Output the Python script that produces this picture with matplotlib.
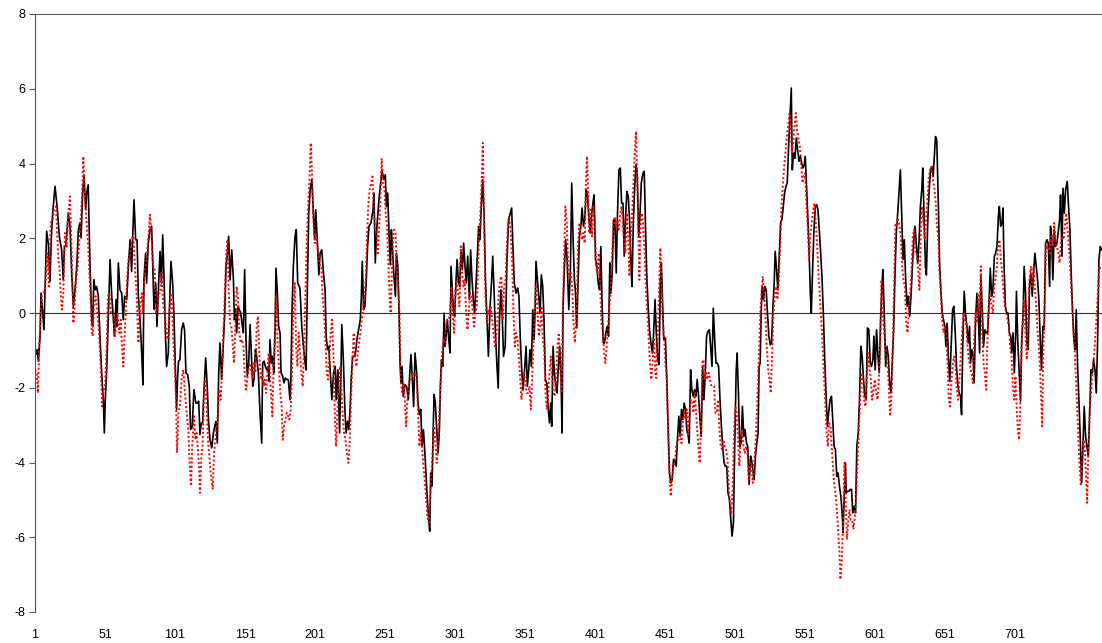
import matplotlib.pyplot as plt

plt.rcParams['font.family'] = ['Liberation Sans', 'DejaVu Sans']
plt.rcParams['axes.unicode_minus'] = False

black_x = [
    1.0, 1.7, 2.7, 3.4, 4.6, 5.3, 6.5, 7.4, 8.4, 9.3,
    10.5, 11.7, 12.7, 13.6, 15.3, 17.0, 18.4, 20.0, 21.2, 22.0,
    23.0, 24.8, 26.0, 27.2, 28.4, 29.6, 30.8, 32.0, 33.0, 33.9,
    35.0, 36.0, 37.2, 37.9, 39.0, 40.3, 41.5, 42.2, 43.0, 44.0,
    45.0, 46.2, 47.4, 48.6, 49.8, 50.5, 51.2, 52.2, 53.4, 54.6,
    55.8, 57.0, 57.7, 58.9, 59.6, 60.5, 61.7, 62.9, 64.0, 65.0,
    66.5, 67.7, 68.9, 70.0, 70.7, 71.7, 72.9, 73.9, 74.8, 76.0,
    77.2, 78.1, 78.8, 80.0, 80.7, 81.9, 83.1, 84.3, 85.5, 86.0,
    87.2, 88.1, 89.1, 90.3, 91.3, 92.2, 93.2, 94.1, 95.0, 96.2,
    96.9, 98.1, 99.3, 100.2, 101.2, 102.1, 102.8, 103.5, 104.5, 105.7,
    106.9, 107.8, 108.8, 110.0, 111.2, 112.1, 113.3, 114.5, 115.9, 116.9,
    117.9, 118.8, 119.8, 120.7, 121.7, 122.9, 124.1, 125.0, 126.0, 127.2,
    128.4, 129.6, 130.3, 131.2, 132.2, 133.1, 134.3, 135.5, 136.5, 137.4,
    138.4, 139.3, 140.3, 141.5, 142.7, 143.4, 144.3, 145.0, 146.0, 146.9,
    147.9, 148.8, 149.8, 150.7, 151.7, 152.6, 153.6, 154.6, 155.5, 156.5,
    157.4, 158.4, 159.3, 160.5, 161.7, 162.9, 163.6, 164.6, 165.5, 166.5,
    167.4, 168.1, 168.8, 169.8, 170.7, 171.5, 172.4, 173.1, 174.1, 175.0,
    176.0, 176.7, 177.9, 178.8, 179.8, 180.7, 181.9, 183.1, 183.8, 184.5,
    185.5, 186.7, 187.6, 188.6, 189.8, 190.3, 191.5, 192.7, 193.9, 194.6,
    195.6, 196.5, 197.5, 198.7, 199.9, 200.8, 201.5, 202.7, 203.7, 204.6,
    205.8, 207.0, 208.2, 208.9, 209.9, 210.8, 211.8, 213.0, 214.2, 215.4,
    216.1, 217.3, 218.5, 219.4, 220.1, 221.3, 222.3, 223.2, 224.2, 225.1,
    226.1, 226.8, 227.8, 229.0, 229.9, 230.9, 232.1, 233.3, 234.0, 234.7,
    235.7, 236.6, 237.6, 238.5, 239.5, 240.9, 242.4, 243.1, 244.0, 245.2,
    246.4, 247.6, 248.8, 250.0, 251.2, 251.9, 252.9, 253.8, 254.8, 255.5,
    256.2, 257.2, 258.4, 259.1, 260.1, 261.0, 261.7, 262.4, 263.1, 264.0,
    265.2, 266.4, 267.6, 268.8, 269.5, 270.5, 271.4, 272.4, 273.6, 274.5,
    275.5, 276.5, 277.4, 278.4, 279.3, 280.3, 281.2, 282.2, 282.9, 283.6,
    284.6, 285.3, 286.0, 286.9, 287.9, 288.9, 289.8, 290.5, 291.3, 292.2,
    293.2, 293.9, 294.8, 295.5, 296.5, 297.4, 298.1, 299.1, 299.8, 300.7,
    301.7, 302.4, 303.3, 304.3, 305.2, 306.2, 307.1, 308.1, 309.0, 310.0,
    311.2, 312.1, 313.1, 314.0, 315.0, 315.9, 316.9, 317.8, 318.8, 319.7,
    320.7, 321.7, 322.7, 323.6, 324.8, 326.0, 327.0, 327.9, 328.9, 329.8,
    330.8, 331.8, 332.7, 333.7, 334.6, 335.6, 336.8, 338.0, 339.2, 340.4,
    341.4, 342.3, 343.3, 344.5, 345.7, 346.6, 347.6, 348.6, 349.5, 350.5,
    351.7, 352.6, 353.6, 354.5, 355.5, 356.5, 357.4, 358.1, 358.8, 359.8,
    360.7, 361.7, 362.6, 363.6, 364.5, 365.5, 366.5, 367.4, 368.4, 369.3,
    370.0, 371.0, 371.9, 372.9, 373.8, 374.8, 375.7, 376.7, 377.4, 378.1,
    379.1, 380.0, 381.0, 382.2, 383.4, 384.3, 385.3, 386.2, 386.9, 387.9,
    388.9, 389.8, 390.8, 391.7, 392.7, 393.6, 394.6, 395.5, 396.5, 397.5,
    398.4, 399.4, 400.3, 401.3, 402.2, 403.2, 404.2, 405.1, 405.8, 406.8,
    407.7, 408.7, 409.6, 410.6, 411.5, 412.3, 413.2, 414.2, 415.1, 416.1,
    417.0, 418.0, 419.0, 419.9, 420.9, 421.8, 422.8, 423.7, 424.7, 425.7,
    426.6, 427.3, 428.3, 429.2, 430.2, 431.1, 432.1, 433.0, 434.0, 435.2,
    436.1, 437.1, 438.0, 439.0, 440.0, 440.9, 441.9, 442.8, 443.8, 444.7,
    445.7, 446.7, 447.6, 448.3, 449.0, 450.0, 451.2, 452.2, 453.1, 454.1,
    455.0, 456.0, 457.0, 457.9, 458.9, 459.8, 460.8, 461.7, 462.7, 463.7,
    464.6, 465.6, 466.5, 467.5, 468.2, 469.2, 470.1, 471.1, 472.0, 473.0,
    473.9, 474.9, 475.9, 476.8, 477.8, 478.7, 479.7, 480.6, 481.6, 482.6,
    483.5, 484.5, 485.4, 486.4, 487.3, 488.3, 489.2, 490.2, 491.2, 492.1,
    493.1, 494.0, 495.0, 495.9, 496.9, 497.9, 498.8, 499.8, 500.7, 501.7,
    502.4, 503.3, 504.3, 505.3, 506.2, 507.2, 508.1, 509.1, 510.0, 511.0,
    512.0, 512.7, 513.6, 514.6, 515.5, 516.5, 517.4, 518.1, 518.9, 519.6,
    520.3, 521.3, 522.2, 523.2, 524.1, 525.1, 526.1, 527.0, 528.0, 528.9,
    529.6, 530.6, 531.5, 532.5, 533.5, 534.4, 535.4, 536.3, 537.3, 538.2,
    539.2, 540.1, 541.1, 541.8, 542.8, 543.7, 544.7, 545.6, 546.6, 547.6,
    548.5, 549.5, 550.4, 551.1, 551.8, 552.8, 553.8, 554.7, 555.4, 556.4,
    557.3, 558.3, 559.2, 560.2, 561.1, 562.1, 563.1, 564.0, 565.0, 565.9,
    566.9, 567.8, 568.8, 569.8, 570.7, 571.7, 572.6, 573.6, 574.5, 575.5,
    576.5, 577.4, 578.1, 578.9, 579.8, 580.3, 581.2, 582.2, 583.1, 584.1,
    585.0, 586.0, 587.0, 587.9, 588.9, 589.8, 590.8, 591.7, 592.7, 593.6,
    594.6, 595.5, 596.5, 597.5, 598.4, 599.4, 600.1, 601.0, 602.0, 603.0,
    603.9, 604.9, 605.8, 606.5, 607.5, 608.5, 609.4, 610.4, 611.3, 612.3,
    613.2, 614.2, 615.2, 616.1, 617.1, 618.0, 619.0, 619.9, 620.9, 621.8,
    622.8, 623.8, 624.7, 625.7, 626.6, 627.6, 628.6, 629.5, 630.5, 631.4,
    632.4, 633.3, 634.3, 635.0, 636.0, 636.9, 637.6, 638.6, 639.6, 640.5,
    641.5, 642.4, 643.4, 644.1, 645.0, 646.0, 647.0, 647.9, 648.9, 649.8,
    650.8, 651.5, 652.4, 653.4, 654.3, 655.3, 656.3, 657.2, 658.2, 659.1,
    660.1, 661.0, 662.0, 662.7, 663.6, 664.6, 665.5, 666.5, 667.5, 668.4,
    669.1, 670.1, 671.0, 671.7, 672.7, 673.7, 674.6, 675.6, 676.5, 677.5,
    678.4, 679.4, 680.3, 681.3, 682.3, 683.2, 684.2, 685.1, 686.1, 687.0,
    688.0, 689.0, 689.7, 690.6, 691.6, 692.3, 693.0, 694.0, 694.9, 695.9,
    696.8, 697.8, 698.5, 699.5, 700.4, 701.4, 701.9, 702.8, 703.8, 704.8,
    705.7, 706.7, 707.4, 708.4, 709.3, 710.3, 711.2, 712.2, 713.2, 714.1,
    715.1, 716.0, 717.0, 717.9, 718.9, 719.8, 720.8, 721.7, 722.7, 723.7,
    724.6, 725.6, 726.2, 727.0, 727.9, 728.9, 729.8, 730.8, 731.7, 732.7,
    733.4, 734.4, 735.1, 736.1, 737.0, 738.2, 739.1, 740.1, 741.0, 742.0,
    742.9, 743.9, 744.6, 745.5, 746.5, 747.5, 748.4, 749.4, 750.3, 751.3,
    752.2, 753.2, 754.2, 755.1, 756.1, 757.0, 758.0, 758.9, 759.9, 760.8,
    761.8, 762.7,
]
black_y = [
    -0.89, -1.11, -0.98, -1.29, -0.62, 0.53, 0.00, -0.45, 0.89, 2.19,
    1.87, 0.85, 2.05, 2.67, 3.39, 2.76, 2.05, 1.69, 0.89, 1.78,
    1.78, 2.67, 2.32, 1.07, 0.18, 0.62, 1.25, 2.23, 2.41, 2.01,
    3.21, 3.65, 2.76, 3.21, 3.43, 1.25, -0.18, -0.36, 0.89, 0.62,
    0.71, 0.45, -0.62, -1.60, -2.32, -3.21, -2.32, -1.52, 0.00, 1.43,
    0.45, -0.18, -0.62, 0.36, -0.36, 1.34, 0.62, 0.53, -0.18, 0.45,
    0.36, 1.25, 1.96, 1.11, 1.96, 3.03, 1.96, 1.96, 0.45, -0.18,
    -1.07, -1.92, 0.89, 1.60, 0.80, 1.87, 2.23, 2.32, 0.71, 0.09,
    0.80, -0.36, 0.62, 1.65, 0.80, 2.09, 0.89, -0.53, -1.43, -1.07,
    0.00, 1.38, 0.80, 0.00, -1.43, -2.58, -1.78, -1.29, -1.25, -0.45,
    -0.27, -0.45, -1.60, -1.65, -1.96, -3.12, -3.03, -2.05, -2.41, -2.41,
    -2.36, -3.25, -2.94, -2.94, -2.05, -1.20, -2.05, -2.94, -3.39, -3.61,
    -3.21, -2.99, -2.90, -3.48, -1.60, -0.80, -1.78, -0.80, 0.00, 1.25,
    1.60, 2.05, 0.89, 1.69, 0.89, -0.18, 0.09, -0.53, 0.18, 0.09,
    0.00, -0.27, -0.53, 1.16, -0.71, -1.69, -1.34, -0.31, -1.07, -1.96,
    -1.78, -0.98, -1.16, -1.60, -2.67, -3.48, -1.34, -1.29, -1.43, -1.52,
    -1.43, -1.83, -0.71, -1.34, -1.16, -1.60, -0.53, 1.20, 0.53, -0.36,
    -0.53, -1.60, -1.69, -1.87, -1.74, -1.78, -1.78, -2.32, -1.69, 0.00,
    1.25, 2.05, 2.23, 0.80, 0.71, 0.62, -0.36, -0.89, -1.34, -1.52,
    0.89, 2.67, 3.30, 3.57, 2.58, 1.96, 2.76, 1.87, 1.02, 1.60,
    1.69, 1.07, 0.62, -0.62, -0.98, -0.89, -1.52, -2.32, -1.60, -1.43,
    -2.32, -1.52, -3.21, -1.78, -0.31, -1.34, -2.58, -3.21, -2.90, -3.12,
    -2.50, -1.78, -1.16, -1.16, -1.07, -0.71, -0.45, -0.18, 0.36, 1.38,
    0.09, 0.18, 0.89, 1.78, 2.32, 2.41, 2.76, 3.21, 1.34, 2.32,
    2.94, 3.39, 3.83, 3.57, 3.70, 2.85, 3.21, 2.14, 1.29, 2.23,
    1.78, 1.07, 0.45, 1.60, 1.25, 0.00, -1.34, -1.87, -1.43, -2.23,
    -1.92, -1.96, -2.32, -1.52, -1.11, -1.78, -2.50, -1.07, -1.60, -2.41,
    -2.72, -2.58, -3.57, -3.12, -3.65, -4.37, -4.99, -5.53, -5.84, -4.28,
    -4.63, -3.21, -2.18, -2.41, -3.12, -3.74, -3.12, -1.96, -1.25, -1.43,
    0.00, -0.89, -0.53, -0.18, -0.71, -1.07, 1.25, 0.53, 0.09, -0.09,
    0.89, 1.43, 0.89, 0.71, 1.69, 1.16, 1.87, 1.25, 0.80, 1.52,
    0.36, 1.69, 0.89, 0.36, 0.00, 0.71, 1.52, 2.32, 1.96, 2.85,
    3.57, 2.67, 0.89, 0.00, -1.16, 0.18, 0.80, 1.52, 0.53, -0.53,
    -1.34, -2.01, -0.18, 0.62, 0.00, -1.16, -0.89, 1.34, 2.50, 2.67,
    2.81, 1.78, 0.80, 0.53, 0.67, 0.45, -0.71, -1.52, -2.05, -1.60,
    -0.89, -1.96, -1.52, -0.98, -1.43, 0.09, -0.71, 0.00, 1.38, 0.89,
    0.45, 0.00, 1.02, 0.71, -0.18, -1.78, -1.87, -2.50, -2.94, -2.41,
    -3.03, -0.89, -1.60, -1.96, -2.14, -1.43, -0.89, -1.78, -3.21, 0.18,
    1.25, 1.96, 1.43, 0.09, 1.25, 3.48, 1.96, 0.89, 0.62, -0.40,
    0.89, 2.05, 2.32, 2.81, 2.32, 2.50, 3.30, 3.21, 2.58, 2.14,
    2.58, 2.94, 3.16, 1.43, 1.25, 0.80, 0.62, 1.78, 0.53, -0.80,
    -0.80, -0.53, -0.36, -0.62, 1.34, 0.53, 1.07, 2.50, 2.50, 1.07,
    2.67, 3.83, 3.88, 2.94, 2.94, 1.52, 2.58, 3.25, 3.12, 2.41,
    1.34, 0.71, 2.41, 3.30, 3.97, 3.74, 2.05, 2.58, 3.48, 3.74,
    3.79, 2.14, 0.89, 0.09, -0.53, -0.80, -1.07, -0.53, 0.36, -0.53,
    -1.25, -1.38, 0.89, 1.34, 0.53, -0.71, -0.67, -1.78, -3.03, -4.28,
    -4.55, -4.46, -3.92, -3.92, -4.10, -3.39, -2.76, -3.30, -2.58, -2.85,
    -2.41, -2.58, -3.12, -3.30, -3.48, -1.52, -2.05, -2.23, -2.05, -2.23,
    -1.78, -2.23, -2.85, -3.30, -1.43, -2.32, -1.60, -0.62, -0.49, -0.45,
    -0.89, -1.43, 0.13, -0.71, -1.34, -1.34, -1.43, -2.32, -3.03, -3.57,
    -4.01, -4.10, -4.10, -4.81, -4.99, -5.53, -5.97, -5.61, -3.57, -1.60,
    -1.07, -2.05, -3.57, -3.48, -2.50, -3.30, -3.12, -3.48, -3.57, -4.59,
    -3.83, -3.92, -4.19, -4.46, -3.83, -3.48, -3.21, -1.43, -1.34, 0.00,
    0.71, 0.36, 0.71, 0.62, 0.00, -0.62, -0.85, -0.80, 0.18, 0.80,
    1.65, 1.16, 0.62, 1.52, 2.41, 2.50, 2.85, 3.21, 3.39, 3.48,
    4.46, 5.17, 6.02, 3.83, 4.28, 4.14, 4.68, 4.37, 4.06, 4.19,
    4.01, 3.88, 3.97, 4.19, 3.57, 2.67, 1.69, 0.53, 0.00, 1.25,
    2.23, 2.85, 2.90, 2.76, 2.23, 1.60, 0.89, 0.00, -1.25, -2.14,
    -3.03, -2.67, -2.32, -2.23, -2.85, -3.57, -3.65, -4.37, -4.28, -4.63,
    -4.90, -5.35, -5.88, -4.90, -4.01, -4.81, -4.77, -4.77, -4.72, -4.72,
    -5.35, -5.17, -5.35, -3.57, -3.21, -2.32, -0.89, -1.16, -1.78, -2.23,
    -2.32, -0.40, -0.45, -1.34, -1.43, -1.25, -0.62, -1.52, -0.45, -1.16,
    -1.60, -0.18, 0.71, 1.16, 0.00, -1.43, -0.89, -1.16, -1.87, -2.14,
    -1.34, -0.45, 1.07, 2.14, 2.67, 3.21, 3.83, 2.67, 1.43, 1.96,
    0.89, 0.18, 0.45, -0.09, 0.45, 1.25, 1.96, 2.32, 1.78, 1.34,
    1.96, 2.85, 3.30, 3.88, 2.50, 1.25, 1.02, 2.50, 3.30, 3.83,
    3.92, 3.65, 4.28, 4.72, 4.63, 3.12, 1.34, 0.62, 0.00, -0.18,
    -0.36, -0.89, -0.27, -1.25, -1.83, -0.89, 0.09, 0.18, -0.53, -1.43,
    -1.96, -2.14, -2.23, -2.72, -0.80, 0.58, 0.00, -0.36, -0.80, -0.36,
    -1.34, -0.98, -1.16, -1.87, -0.18, 0.53, 0.00, -1.07, 0.98, 0.09,
    -0.89, -0.45, -0.53, -0.53, 0.27, 1.20, 0.45, 0.62, 1.52, 1.60,
    1.78, 2.58, 2.85, 2.32, 2.41, 2.81, 1.34, 0.18, 0.00, 0.00,
    -0.53, -0.62, -1.07, -0.53, -1.60, -0.53, 0.58, -0.71, -1.52, -2.36,
    -0.71, 0.00, 1.25, 0.53, -0.80, -0.98, 0.71, 1.07, 0.45, 1.07,
    1.60, 1.25, 0.89, 0.36, -0.71, -1.52, -0.36, -0.45, 1.87, 1.96,
    1.87, 0.71, 2.32, 2.05, 0.89, 2.23, 1.78, 1.87, 2.14, 2.50,
    3.16, 1.52, 3.34, 2.67, 3.30, 3.52, 2.85, 2.23, 1.07, 0.00,
    -0.71, -0.98, 0.09, -1.34, -2.32, -3.39, -4.55, -3.57, -2.50, -3.30,
    -3.57, -3.83, -2.67, -1.52, -1.60, -1.25, -1.52, -2.14, -0.71, 1.43,
    1.78, 1.69,
]

# red series (dotted)
red_x = [
    1.0, 2.2, 3.1, 4.1, 5.8, 7.0, 8.1, 9.8, 11.0, 12.2,
    13.6, 14.6, 16.0, 17.7, 18.4, 19.3, 20.3, 21.2, 22.4, 23.6,
    24.8, 26.0, 27.2, 28.4, 29.1, 30.3, 31.5, 32.7, 33.6, 34.6,
    35.5, 36.7, 37.9, 39.0, 40.3, 41.5, 42.2, 43.0, 44.3, 45.5,
    46.7, 47.9, 48.9, 49.8, 51.0, 52.2, 53.1, 54.1, 55.3, 57.0,
    58.1, 59.8, 61.2, 62.2, 63.1, 64.1, 65.3, 66.5, 67.7, 68.8,
    70.0, 71.2, 72.4, 73.6, 74.8, 76.0, 77.2, 77.9, 78.8, 80.0,
    81.2, 82.4, 83.1, 84.3, 85.5, 86.5, 87.4, 88.4, 89.3, 90.3,
    91.5, 92.6, 93.6, 94.5, 95.7, 96.9, 97.9, 98.8, 99.8, 101.0,
    101.7, 102.4, 103.4, 104.5, 105.7, 106.9, 108.1, 109.3, 110.5, 111.4,
    112.4, 113.3, 114.5, 115.5, 116.4, 117.4, 118.3, 118.8, 119.8, 120.7,
    121.7, 122.6, 123.6, 124.5, 125.5, 126.4, 127.9, 128.9, 130.3, 131.7,
    132.7, 133.6, 134.6, 135.5, 136.5, 137.4, 138.4, 139.3, 140.3, 141.2,
    142.2, 143.1, 144.1, 145.0, 146.0, 146.9, 147.9, 148.8, 149.8, 150.7,
    151.7, 152.6, 153.6, 154.6, 155.5, 156.5, 157.4, 158.4, 159.3, 160.3,
    161.2, 162.2, 163.1, 164.1, 165.0, 166.0, 166.9, 167.9, 168.8, 169.8,
    170.5, 171.5, 172.4, 173.4, 174.3, 175.3, 176.2, 177.2, 177.9, 178.8,
    179.8, 180.7, 181.7, 182.6, 183.6, 184.5, 185.5, 186.5, 187.4, 188.4,
    189.3, 190.3, 191.2, 192.2, 193.2, 194.1, 195.1, 196.0, 197.0, 197.9,
    198.9, 199.8, 200.8, 201.7, 202.7, 203.6, 204.6, 205.5, 206.5, 207.4,
    208.4, 209.3, 210.3, 211.2, 212.2, 213.1, 214.1, 215.0, 216.0, 216.9,
    217.9, 218.9, 219.8, 220.8, 221.7, 222.7, 223.6, 224.8, 225.8, 226.7,
    227.7, 228.6, 229.6, 230.5, 231.5, 232.4, 233.4, 234.3, 235.3, 236.2,
    237.2, 238.1, 239.1, 240.0, 241.0, 242.0, 242.9, 243.9, 244.8, 245.8,
    246.7, 247.7, 248.6, 249.6, 250.5, 251.5, 252.4, 253.4, 254.3, 255.0,
    256.0, 256.9, 257.5, 258.4, 259.4, 260.3, 261.3, 262.2, 263.2, 264.1,
    265.1, 266.0, 267.0, 267.9, 268.9, 269.8, 270.8, 271.7, 272.7, 273.6,
    274.6, 275.5, 276.5, 277.4, 278.4, 279.3, 280.3, 281.2, 282.2, 283.2,
    284.1, 285.1, 286.0, 287.0, 287.9, 288.9, 289.8, 290.8, 291.7, 292.7,
    293.6, 294.6, 295.5, 296.5, 297.4, 298.4, 299.3, 300.3, 301.2, 302.2,
    303.2, 304.1, 305.1, 306.0, 307.0, 307.9, 308.9, 309.8, 310.8, 311.7,
    312.7, 313.6, 314.6, 315.5, 316.5, 317.4, 318.4, 319.3, 320.0, 320.8,
    321.8, 322.7, 323.7, 324.6, 325.6, 326.5, 327.5, 328.4, 329.4, 330.3,
    331.3, 332.2, 333.2, 334.1, 335.1, 336.0, 337.0, 337.9, 338.9, 339.8,
    340.8, 341.7, 342.7, 343.7, 344.6, 345.6, 346.5, 347.5, 348.4, 349.4,
    350.3, 351.3, 352.2, 353.2, 354.1, 355.1, 356.0, 357.0, 357.9, 358.9,
    359.8, 360.8, 361.7, 362.7, 363.6, 364.6, 365.6, 366.5, 367.5, 368.4,
    369.4, 370.3, 371.3, 372.2, 373.2, 374.1, 375.1, 376.0, 377.0, 377.9,
    378.9, 379.8, 380.8, 381.7, 382.7, 383.6, 384.6, 385.5, 386.5, 387.9,
    388.8, 389.8, 390.7, 391.7, 392.6, 393.6, 394.5, 395.2, 396.0, 396.9,
    397.9, 398.8, 399.8, 400.7, 401.7, 402.6, 403.6, 404.5, 405.5, 406.4,
    407.4, 408.3, 409.3, 410.2, 411.2, 412.1, 413.1, 414.0, 415.0, 415.9,
    416.9, 417.8, 418.8, 419.8, 420.7, 421.7, 422.6, 423.6, 424.5, 425.5,
    426.4, 427.4, 428.3, 429.3, 430.2, 431.2, 432.1, 432.6, 433.6, 434.5,
    435.5, 436.4, 437.4, 438.3, 439.3, 440.2, 441.2, 442.1, 443.1, 444.0,
    444.7, 445.5, 446.2, 446.9, 447.6, 448.6, 449.3, 450.3, 451.2, 452.2,
    453.1, 454.1, 455.0, 456.0, 457.0, 457.9, 458.9, 459.8, 460.8, 461.7,
    462.7, 463.7, 464.6, 465.6, 466.5, 467.5, 468.4, 469.3, 470.3, 471.2,
    472.2, 473.1, 474.1, 475.0, 475.7, 476.7, 477.6, 478.3, 479.3, 480.2,
    481.2, 482.1, 483.1, 484.1, 485.0, 486.0, 486.9, 487.9, 488.8, 489.8,
    490.7, 491.7, 492.6, 493.6, 494.5, 495.5, 496.4, 497.4, 498.3, 499.3,
    500.2, 501.2, 502.1, 503.1, 504.0, 505.0, 505.9, 506.9, 507.9, 508.8,
    509.8, 510.7, 511.7, 512.7, 513.6, 514.6, 515.5, 516.5, 517.4, 518.4,
    519.1, 520.1, 520.7, 521.7, 522.6, 523.6, 524.6, 525.5, 526.5, 527.4,
    528.4, 529.3, 530.3, 531.2, 532.2, 533.1, 534.1, 535.0, 536.0, 536.9,
    537.9, 538.8, 539.8, 540.5, 541.5, 542.4, 543.4, 544.3, 545.3, 546.2,
    547.2, 548.1, 549.1, 550.0, 551.0, 551.9, 552.9, 553.8, 554.8, 555.7,
    556.7, 557.6, 558.6, 559.5, 560.5, 561.4, 562.4, 563.3, 564.3, 565.3,
    566.2, 567.2, 568.1, 569.1, 570.0, 571.0, 571.9, 572.9, 573.8, 574.8,
    575.5, 576.2, 577.2, 578.1, 579.1, 579.8, 580.8, 581.7, 582.7, 583.6,
    584.6, 585.5, 586.5, 587.4, 588.4, 589.3, 590.3, 591.2, 592.2, 593.1,
    594.1, 595.0, 596.0, 596.9, 597.9, 598.8, 599.8, 600.8, 601.7, 602.7,
    603.6, 604.6, 605.5, 606.5, 607.4, 608.4, 609.3, 610.3, 611.2, 611.7,
    612.7, 613.6, 614.6, 615.5, 616.5, 617.4, 618.4, 619.3, 620.3, 621.2,
    622.2, 623.1, 624.1, 625.0, 626.0, 626.9, 627.9, 628.8, 629.8, 630.7,
    631.7, 632.6, 633.6, 634.5, 635.5, 636.4, 637.4, 638.4, 639.3, 640.3,
    641.2, 642.2, 643.1, 644.1, 645.1, 646.0, 647.0, 647.9, 648.9, 649.8,
    650.8, 651.7, 652.7, 653.6, 654.6, 655.5, 656.5, 657.4, 658.4, 659.3,
    660.3, 661.2, 662.2, 663.1, 664.1, 665.1, 666.0, 667.0, 667.9, 668.9,
    669.8, 670.8, 671.7, 672.7, 673.6, 674.6, 675.5, 676.5, 677.4, 678.4,
    679.3, 680.3, 681.2, 682.2, 683.1, 684.1, 685.0, 686.0, 686.9, 687.9,
    688.8, 689.8, 690.8, 691.7, 692.7, 693.6, 694.6, 695.5, 696.5, 697.4,
    698.4, 699.3, 700.3, 701.2, 702.2, 703.1, 703.8, 704.5, 705.5, 706.4,
    707.4, 708.3, 709.3, 710.3, 711.2, 712.2, 713.1, 714.1, 715.0, 716.0,
    716.9, 717.9, 718.8, 719.8, 720.2, 721.2, 722.2, 723.1, 724.1, 725.0,
    726.0, 726.9, 727.9, 728.8, 729.8, 730.8, 731.7, 732.7, 733.6, 734.5,
    735.5, 736.5, 737.4, 738.4, 739.3, 740.2, 741.2, 742.1, 743.1, 744.0,
    745.0, 745.9, 746.9, 747.9, 748.8, 749.8, 750.7, 751.7, 752.4, 753.3,
    754.3, 755.2, 756.2, 757.1, 758.1, 759.0, 760.0, 761.0, 761.9,
]
red_y = [
    -1.52, -1.60, -2.14, -0.80, 0.45, 0.53, 0.62, 1.60, 0.71, 2.41,
    2.50, 2.76, 2.85, 1.43, 1.25, 0.53, 0.09, 0.53, 2.14, 1.78,
    2.67, 3.12, 1.60, -0.27, 0.09, 0.89, 1.25, 1.96, 2.50, 3.12,
    4.19, 3.03, 2.41, 1.78, 0.71, -0.45, -0.62, 0.18, 0.45, 0.00,
    -0.53, -1.34, -2.50, -2.14, -1.96, -0.89, 0.45, 0.53, 0.00, -0.09,
    -0.62, 0.00, -0.53, -0.18, -0.89, -1.43, -0.36, 0.71, 1.43, 1.52,
    1.96, 2.05, 1.25, 0.45, -0.80, 0.18, 0.53, 0.00, 0.80, 1.25,
    1.69, 2.23, 2.63, 1.96, 1.16, 1.16, 0.00, 0.09, 0.53, 0.53,
    1.07, 0.18, 0.00, -0.36, -0.71, -0.18, 0.53, 0.18, -0.71, -1.60,
    -2.32, -3.74, -2.67, -2.50, -1.78, -1.52, -2.14, -2.67, -3.12, -4.01,
    -4.63, -3.57, -2.76, -3.39, -3.21, -3.65, -4.28, -4.81, -3.83, -3.57,
    -2.14, -1.78, -2.50, -3.39, -3.83, -4.28, -4.72, -3.74, -3.21, -2.67,
    -2.05, -2.32, -1.52, -0.53, 0.45, 1.43, 1.96, 0.62, -0.27, -0.36,
    -0.80, -1.34, -0.36, 0.71, 0.36, -0.53, -0.80, -0.71, -0.89, -1.60,
    -2.05, -1.78, -1.43, -1.34, -1.60, -1.78, -1.34, -1.60, -0.36, -0.09,
    -1.07, -1.78, -1.60, -1.96, -1.78, -2.14, -1.60, -1.07, -1.69, -2.32,
    -2.76, -1.34, -0.45, 0.45, -0.89, -1.52, -2.14, -2.50, -3.39, -3.03,
    -2.85, -2.67, -2.76, -2.85, -2.58, -1.60, 0.00, 0.80, -0.80, -1.43,
    -0.53, -1.07, -1.60, -1.96, -0.89, 0.45, 1.96, 2.85, 3.57, 4.55,
    3.65, 2.50, 1.87, 2.14, 1.78, 1.52, 1.25, 1.25, 0.36, 0.00,
    -0.71, -1.60, -1.78, -1.16, -0.53, -0.18, -1.07, -2.58, -3.57, -2.67,
    -1.96, -1.43, -2.05, -2.76, -3.21, -3.39, -3.74, -4.01, -3.39, -2.32,
    -1.25, -0.53, -1.16, -1.43, -1.07, -0.80, -0.53, -0.18, 0.09, 0.45,
    0.89, 2.05, 2.94, 3.30, 3.48, 3.65, 2.76, 2.23, 2.14, 1.60,
    2.23, 3.12, 4.14, 3.48, 3.30, 2.67, 2.32, 1.25, 0.36, 0.00,
    1.25, 2.14, 2.23, 2.14, 1.25, 0.80, 0.00, -1.78, -2.14, -1.87,
    -2.32, -3.03, -2.32, -1.96, -1.78, -1.78, -1.60, -1.69, -1.60, -1.78,
    -2.67, -3.57, -3.21, -3.57, -4.10, -4.46, -4.99, -5.44, -5.61, -4.90,
    -4.28, -3.65, -3.03, -3.48, -4.01, -3.57, -2.67, -1.78, -1.07, -0.71,
    -0.80, -0.36, -0.18, -0.18, 0.00, 0.71, 0.00, -0.53, 0.53, 0.89,
    0.53, 0.18, 1.78, 1.07, 0.71, 0.89, 0.00, -0.45, 0.00, 0.53,
    0.45, 0.00, -0.36, 0.00, 0.18, 1.25, 2.23, 2.85, 3.57, 4.55,
    2.23, 0.45, -0.27, 0.09, 0.00, 0.18, -0.18, -0.53, -0.89, -0.71,
    -0.18, 0.53, 0.89, 0.98, -0.18, 0.71, 0.89, 1.78, 2.41, 2.50,
    2.14, 1.43, 0.00, -0.89, -0.53, -0.71, -1.16, -1.78, -2.32, -1.96,
    -1.60, -1.96, -2.14, -2.14, -1.96, -2.58, -1.78, -0.71, 0.00, 0.71,
    0.09, -0.62, -0.36, 0.18, -0.62, -0.98, -2.14, -2.58, -2.23, -1.60,
    -1.16, -1.78, -2.14, -2.23, -1.78, -0.89, -0.53, -1.34, -2.14, -0.18,
    1.60, 2.85, 2.41, 1.25, 0.89, 1.07, 0.71, -0.18, -0.80, 0.09,
    1.87, 2.41, 2.14, 1.96, 2.14, 1.87, 3.57, 4.19, 3.21, 2.14,
    2.76, 2.05, 2.85, 2.50, 1.25, 1.07, 1.60, 0.89, -0.27, -0.45,
    -1.07, -1.34, -0.89, -0.36, 0.18, 0.53, 1.60, 2.32, 2.58, 2.32,
    2.50, 2.23, 2.58, 2.85, 2.50, 1.96, 1.60, 2.67, 2.14, 0.98,
    2.05, 2.67, 3.39, 4.28, 4.86, 3.39, 1.78, 0.89, 2.50, 2.67,
    2.23, 1.60, 0.53, 0.00, -0.71, -1.34, -1.78, -1.25, -0.71, -1.60,
    -1.74, -0.71, -0.18, 0.89, 1.74, 0.53, -0.18, -0.71, -1.34, -1.78,
    -2.94, -4.28, -4.90, -4.46, -4.10, -4.01, -3.57, -3.39, -3.39, -3.21,
    -3.48, -2.85, -2.67, -2.85, -2.58, -3.30, -2.67, -2.32, -2.32, -2.67,
    -2.14, -2.67, -3.21, -3.74, -4.01, -2.94, -1.34, -1.25, -1.78, -1.60,
    -1.78, -1.60, -1.78, -1.96, -1.96, -1.96, -2.67, -2.67, -2.32, -3.12,
    -3.57, -3.65, -3.39, -3.57, -3.65, -3.92, -4.63, -5.08, -5.35, -4.63,
    -3.21, -2.50, -2.67, -3.39, -4.10, -3.39, -3.12, -3.57, -3.74, -3.57,
    -3.74, -4.46, -4.01, -4.10, -4.55, -4.01, -3.57, -2.67, -1.78, -0.71,
    0.09, 0.71, 0.98, 0.53, 0.00, -0.89, -1.52, -1.78, -2.14, -1.16,
    0.00, 0.45, 0.71, 0.36, 0.89, 1.78, 2.85, 3.39, 3.92, 4.28,
    4.72, 4.99, 5.35, 5.08, 4.28, 4.55, 4.99, 5.35, 4.90, 4.63,
    4.46, 4.01, 3.48, 3.65, 3.74, 2.94, 2.23, 1.43, 2.14, 2.41,
    2.76, 2.94, 2.41, 1.87, 1.07, 0.53, -0.18, -0.71, -1.60, -2.32,
    -3.12, -3.57, -2.94, -3.03, -3.57, -4.19, -4.63, -4.90, -5.35, -5.97,
    -6.42, -7.13, -6.60, -5.61, -4.01, -4.81, -6.06, -5.61, -5.26, -5.53,
    -5.53, -5.79, -5.44, -4.90, -4.01, -3.12, -2.32, -1.60, -1.78, -2.32,
    -2.50, -1.78, -1.07, -1.43, -1.78, -2.32, -2.05, -1.78, -2.14, -2.32,
    -1.78, -0.89, 0.89, 0.00, -0.53, -0.89, -1.25, -1.60, -2.32, -2.76,
    -2.14, -0.89, 0.89, 2.41, 2.32, 2.50, 2.32, 2.05, 1.25, 0.89,
    0.71, -0.18, -0.53, 0.00, 0.53, 1.07, 2.05, 2.23, 1.60, 1.60,
    1.16, 0.62, 2.14, 2.85, 2.41, 1.96, 2.50, 3.12, 3.65, 3.83,
    3.92, 3.57, 3.39, 3.03, 2.32, 2.05, 1.07, 0.53, -0.18, -0.53,
    -0.36, -0.53, -1.34, -2.32, -2.50, -1.78, -1.34, -1.16, -1.43, -2.05,
    -2.32, -1.78, -1.07, -0.53, 0.00, -0.18, -0.27, -0.89, -1.25, -1.43,
    -1.60, -1.87, -0.71, 0.00, -0.27, 0.53, 0.00, 1.25, -0.53, -1.34,
    -1.60, -2.05, -0.71, 0.18, 0.53, 0.18, 0.00, 0.71, 0.89, 1.25,
    1.87, 1.96, 1.43, 1.07, 0.53, 0.18, 0.00, -0.18, -0.36, -0.89,
    -1.16, -1.96, -2.32, -1.69, -2.67, -3.21, -3.39, -2.58, -0.89, -0.27,
    0.36, -0.53, -1.25, 0.00, 0.89, 1.25, 0.71, 1.25, 0.71, 0.18,
    -0.45, -0.89, -1.60, -2.50, -3.03, -0.89, 0.45, 1.87, 1.69, 1.78,
    1.60, 2.05, 1.78, 2.41, 1.96, 1.78, 1.60, 1.34, 1.87, 2.05,
    1.96, 2.32, 2.67, 2.23, 1.78, 1.25, 0.53, 0.00, -0.71, -1.43,
    -2.32, -3.12, -4.01, -4.63, -4.10, -3.39, -3.57, -4.46, -5.08, -3.57,
    -2.50, -2.14, -1.60, -1.25, -0.71, -0.18, 0.53, 1.25, 1.16,
]

y_ticks = [-8, -6, -4, -2, 0, 2, 4, 6, 8]
x_ticks = [1, 51, 101, 151, 201, 251, 301, 351, 401, 451, 501, 551, 601, 651, 701]

assert len(black_x) == len(black_y), (len(black_x), len(black_y))
assert len(red_x) == len(red_y), (len(red_x), len(red_y))

fig = plt.figure(figsize=(11.02, 6.43), dpi=100)
ax = fig.add_axes([35 / 1102, 1 - 612 / 643, 1 - 35 / 1102, 598 / 643])

ax.plot(black_x, black_y, color='black', lw=1.2, zorder=2)
ax.plot(red_x, red_y, color='red', lw=1.4, linestyle=(0, (1, 1.2)), zorder=3)
ax.axhline(0, color='#333333', lw=0.8, zorder=1)

ax.set_xlim(1, 763)
ax.set_ylim(-8, 8)
ax.set_yticks(y_ticks)
ax.set_xticks(x_ticks)
ax.tick_params(axis='y', length=4, width=0.8, color='#555555', labelsize=9, pad=3)
ax.tick_params(axis='x', length=0, labelsize=9, pad=12)

for side in ['right', 'bottom']:
    ax.spines[side].set_visible(False)
for side in ['left', 'top']:
    ax.spines[side].set_color('#555555')
    ax.spines[side].set_linewidth(0.8)

fig.savefig('out.png', dpi=100)
